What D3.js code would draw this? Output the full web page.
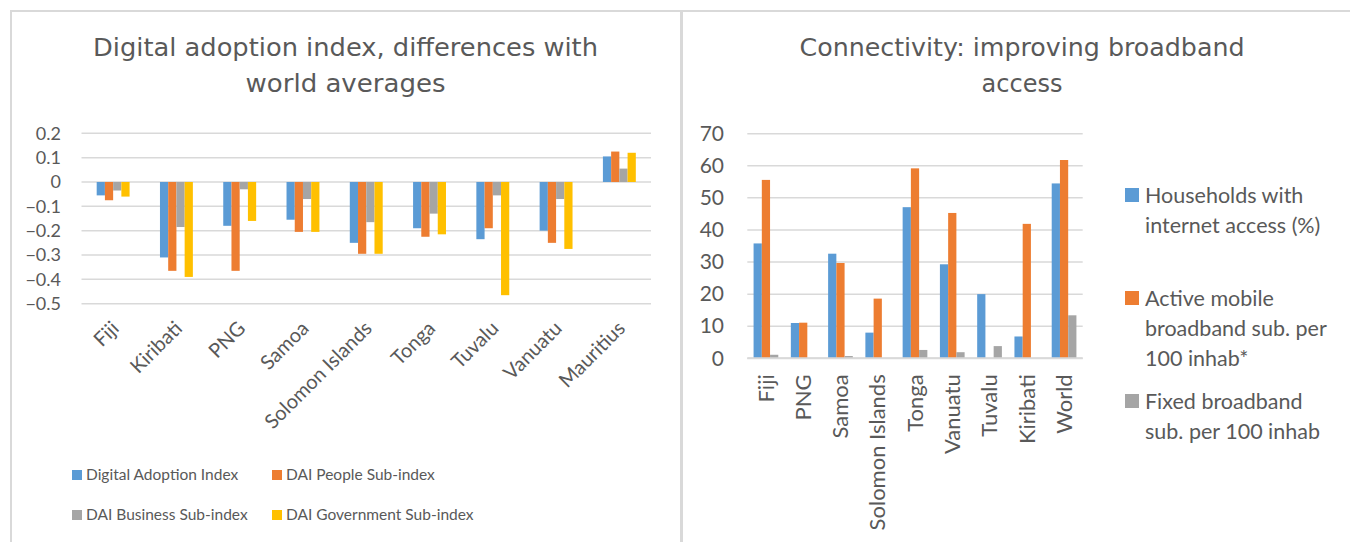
<!DOCTYPE html>
<html><head><meta charset="utf-8">
<script src="https://cdn.jsdelivr.net/npm/d3@7"></script>
<style>
html,body{margin:0;padding:0;background:#fff;}
svg{display:block;}
text{fill:#595959;}
</style></head>
<body>
<svg id="c" width="1350" height="542"></svg>
<script>
// ---------- DATA ----------
const daiCategories = ["Fiji","Kiribati","PNG","Samoa","Solomon Islands","Tonga","Tuvalu","Vanuatu","Mauritius"];
const daiSeriesNames = ["Digital Adoption Index","DAI People Sub-index","DAI Business Sub-index","DAI Government Sub-index"];
const daiIndex      = [-0.055,-0.31,-0.18,-0.155,-0.25,-0.19,-0.235,-0.2,0.105];
const daiPeople     = [-0.075,-0.365,-0.365,-0.205,-0.295,-0.225,-0.19,-0.25,0.125];
const daiBusiness   = [-0.035,-0.185,-0.03,-0.07,-0.165,-0.13,-0.055,-0.07,0.055];
const daiGovernment = [-0.06,-0.39,-0.16,-0.205,-0.295,-0.215,-0.465,-0.275,0.12];
const daiTicks = [0.2,0.1,0,-0.1,-0.2,-0.3,-0.4,-0.5];

const connCategories = ["Fiji","PNG","Samoa","Solomon Islands","Tonga","Vanuatu","Tuvalu","Kiribati","World"];
const connSeriesNames = [["Households with","internet access (%)"],["Active mobile","broadband sub. per","100 inhab*"],["Fixed broadband","sub. per 100 inhab"]];
const connHouseholds = [35.8,11,32.6,8,47.1,29.3,20,6.8,54.5];
const connMobile     = [55.6,11.1,29.7,18.6,59.2,45.3,0,41.9,61.8];
const connFixed      = [1.1,0,0.7,0,2.6,1.9,3.8,0,13.4];
const connTicks = [0,10,20,30,40,50,60,70];

const colors = ["#5b9bd5","#ed7d31","#a5a5a5","#ffc000"];
const titleFont = "'DejaVu Sans', sans-serif";
const bodyFont = "Lato, 'Open Sans', sans-serif";

const svg = d3.select("#c");
const grid = "#d9d9d9";

// ---------- panel borders ----------
svg.append("line").attr("x1",10).attr("x2",1350).attr("y1",11).attr("y2",11).attr("stroke",grid).attr("stroke-width",2);
svg.append("line").attr("x1",11).attr("x2",11).attr("y1",10).attr("y2",542).attr("stroke",grid).attr("stroke-width",2);
svg.append("line").attr("x1",681.5).attr("x2",681.5).attr("y1",10).attr("y2",542).attr("stroke",grid).attr("stroke-width",3);

function title(lines, cx, y0, width){
  lines.forEach((t,i)=>{
    const tx = svg.append("text").attr("x",cx).attr("y",y0+i*36).attr("text-anchor","middle")
      .attr("font-family",titleFont).attr("font-size",24)
      .text(t);
    if(width[i]) tx.attr("textLength", width[i]).attr("lengthAdjust","spacingAndGlyphs");
  });
}
title(["Digital adoption index, differences with","world averages"],345.5,56,[505,200]);
title(["Connectivity: improving broadband","access"],1022,56,[445,null]);

// ---------- LEFT CHART ----------
(function(){
  const x = d3.scaleBand().domain(daiCategories).range([81.5,651]).padding(0);
  const gw = x.step()*0.52;
  const keys = [0,1,2,3];
  const xs = d3.scaleBand().domain(keys).range([-gw/2,gw/2]).padding(0);
  const y = d3.scaleLinear().domain([-0.5,0.2]).range([303.7,133.3]);
  const series = [daiIndex,daiPeople,daiBusiness,daiGovernment];

  const g = svg.append("g");
  g.selectAll("line.grid").data(daiTicks).join("line")
    .attr("x1",81.5).attr("x2",651).attr("y1",d=>y(d)).attr("y2",d=>y(d))
    .attr("stroke",grid).attr("stroke-width",1.5);

  const yAxis = d3.axisLeft(y).tickValues(daiTicks).tickSize(0).tickPadding(0)
    .tickFormat(d=>d===0?"0":d3.format(".1f")(d));
  const ya = g.append("g").attr("transform","translate(61,0)").call(yAxis);
  ya.select(".domain").remove();
  ya.selectAll("text").attr("font-family",bodyFont).attr("font-size",18).attr("fill","#595959");

  daiCategories.forEach((c,i)=>{
    series.forEach((s,k)=>{
      const v = s[i];
      g.append("rect")
        .attr("x",x(c)+x.step()/2+xs(k)).attr("width",xs.bandwidth())
        .attr("y",y(Math.max(0,v))).attr("height",Math.abs(y(v)-y(0)))
        .attr("fill",colors[k]);
    });
  });

  const xAxis = d3.axisBottom(x).tickSize(0).tickPadding(0);
  const xa = g.append("g").attr("transform","translate(0,303.7)").call(xAxis);
  xa.select(".domain").remove();
  xa.selectAll("text").attr("font-family",bodyFont).attr("font-size",20).attr("fill","#595959")
    .attr("text-anchor","end").attr("dy",0)
    .attr("transform","translate(7,26) rotate(-45)");

  // legend
  const leg = [[0,72,475],[1,272,475],[2,72,515],[3,272,515]];
  leg.forEach(([k,lx,ly])=>{
    svg.append("rect").attr("x",lx).attr("y",ly-5).attr("width",10).attr("height",10).attr("fill",colors[k]);
    svg.append("text").attr("x",lx+14).attr("y",ly).attr("dy","0.35em")
      .attr("font-family",bodyFont).attr("font-size",15.5).text(daiSeriesNames[k]);
  });
})();

// ---------- RIGHT CHART ----------
(function(){
  const x = d3.scaleBand().domain(connCategories).range([747.3,1082.7]).padding(0);
  const gw = x.step()*0.663;
  const keys = [0,1,2];
  const xs = d3.scaleBand().domain(keys).range([-gw/2,gw/2]).padding(0);
  const y = d3.scaleLinear().domain([0,70]).range([358.3,133.7]);
  const series = [connHouseholds,connMobile,connFixed];

  const g = svg.append("g");
  g.selectAll("line.grid").data(connTicks).join("line")
    .attr("x1",747.3).attr("x2",1082.7).attr("y1",d=>y(d)).attr("y2",d=>y(d))
    .attr("stroke",grid).attr("stroke-width",1.5);

  const yAxis = d3.axisLeft(y).tickValues(connTicks).tickSize(0).tickPadding(0);
  const ya = g.append("g").attr("transform","translate(724,0)").call(yAxis);
  ya.select(".domain").remove();
  ya.selectAll("text").attr("font-family",bodyFont).attr("font-size",21).attr("fill","#595959");

  connCategories.forEach((c,i)=>{
    series.forEach((s,k)=>{
      const v = s[i];
      if(v<=0) return;
      g.append("rect")
        .attr("x",x(c)+x.step()/2+xs(k)).attr("width",xs.bandwidth())
        .attr("y",y(v)).attr("height",y(0)-y(v))
        .attr("fill",colors[k]);
    });
  });
  g.append("line").attr("x1",747.3).attr("x2",1082.7).attr("y1",y(0)).attr("y2",y(0))
    .attr("stroke",grid).attr("stroke-width",2);

  const xAxis = d3.axisBottom(x).tickSize(0).tickPadding(0);
  const xa = g.append("g").attr("transform","translate(0,358.3)").call(xAxis);
  xa.select(".domain").remove();
  xa.selectAll("text").attr("font-family",bodyFont).attr("font-size",22).attr("fill","#595959")
    .attr("text-anchor","end").attr("dy","0.35em")
    .attr("transform","translate(0,16) rotate(-90)");

  // legend
  const legY = [195,298,401];
  connSeriesNames.forEach((lines,k)=>{
    svg.append("rect").attr("x",1125).attr("y",legY[k]-7).attr("width",14).attr("height",14).attr("fill",colors[k]);
    lines.forEach((t,j)=>{
      svg.append("text").attr("x",1145).attr("y",legY[k]+j*30).attr("dy","0.35em")
        .attr("font-family",bodyFont).attr("font-size",21.5).text(t);
    });
  });
})();
</script>
</body></html>
